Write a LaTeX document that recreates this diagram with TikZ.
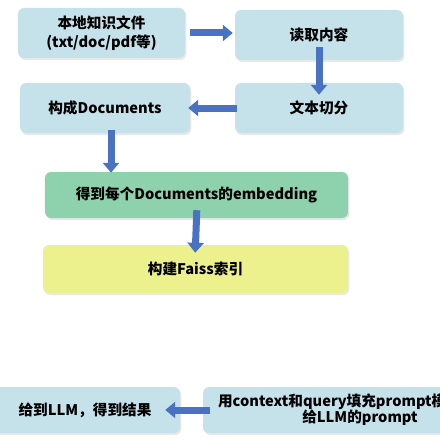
\documentclass[tikz,border=0pt]{standalone}
\usepackage{fontspec}
\setmainfont{Noto Sans CJK SC}
\usepackage{tikz}
\usetikzlibrary{positioning,arrows.meta,shadows}

\definecolor{boxblue}{HTML}{C5E2EB}
\definecolor{boxgreen}{HTML}{8DD1AD}
\definecolor{boxyellow}{HTML}{EDF18D}
\definecolor{flowblue}{HTML}{4A72C3}

\begin{document}
\begin{tikzpicture}[
    x=0.3mm, y=-0.3mm,
    every node/.style={rounded corners=1.8mm,inner sep=2pt,align=center,
        font=\fontsize{12.5}{16}\selectfont\bfseries,
        drop shadow={opacity=0.18,shadow xshift=0.4mm,shadow yshift=-0.6mm}},
    bluebox/.style={fill=boxblue,minimum width=50.4mm,minimum height=15mm},
    flow/.style={draw=flowblue,line width=2.1mm,
        -{Triangle[length=3mm,width=4.8mm]}}
]
\useasboundingbox (0,0) rectangle (439,440);

\node[bluebox,minimum width=50.1mm] (local) at (101.5,33) {本地知识文件\\(txt/doc/pdf等)};
\node[bluebox] (read) at (319,35) {读取内容};
\node[bluebox,minimum width=51mm] (docs) at (105,108) {构成Documents};
\node[bluebox] (split) at (319,108) {文本切分};

\node[fill=boxgreen,minimum width=90.9mm,minimum height=13.8mm] (embed) at (196.5,195) {得到每个Documents的embedding};
\node[fill=boxyellow,minimum width=91.5mm,minimum height=14.4mm] (faiss) at (195.5,269) {构建Faiss索引};

\node[bluebox,minimum width=57mm,minimum height=13.8mm] (llm) at (85,410) {给到LLM，得到结果};
\node[bluebox,minimum width=94.2mm,minimum height=13.8mm,
      font=\fontsize{12.5}{13.5}\selectfont\bfseries] (fill) at (360,410)
    {\makebox[85.2mm][l]{用context和query填充prompt模}\\给LLM的prompt};

% arrows
\draw[flow,shorten <=1.5mm,shorten >=0.6mm] (local.east) -- (local.east -| read.west);
\draw[flow,shorten <=-3.9mm,shorten >=-3.6mm] (read.south) -- (split.north);
\draw[flow,shorten <=-0.6mm,shorten >=-0.6mm] (split.west) -- (docs.east);
\draw[flow,shorten <=-0.9mm,shorten >=-0.3mm] ([xshift=1.8mm]docs.south) -- ([xshift=1.8mm]docs.south |- embed.north);
\draw[flow,shorten <=-2.4mm,shorten >=-2.4mm] (embed.south) -- (faiss.north);
\draw[flow,shorten <=-2.1mm,shorten >=-4.5mm] (fill.west) -- (llm.east);

\end{tikzpicture}
\end{document}
